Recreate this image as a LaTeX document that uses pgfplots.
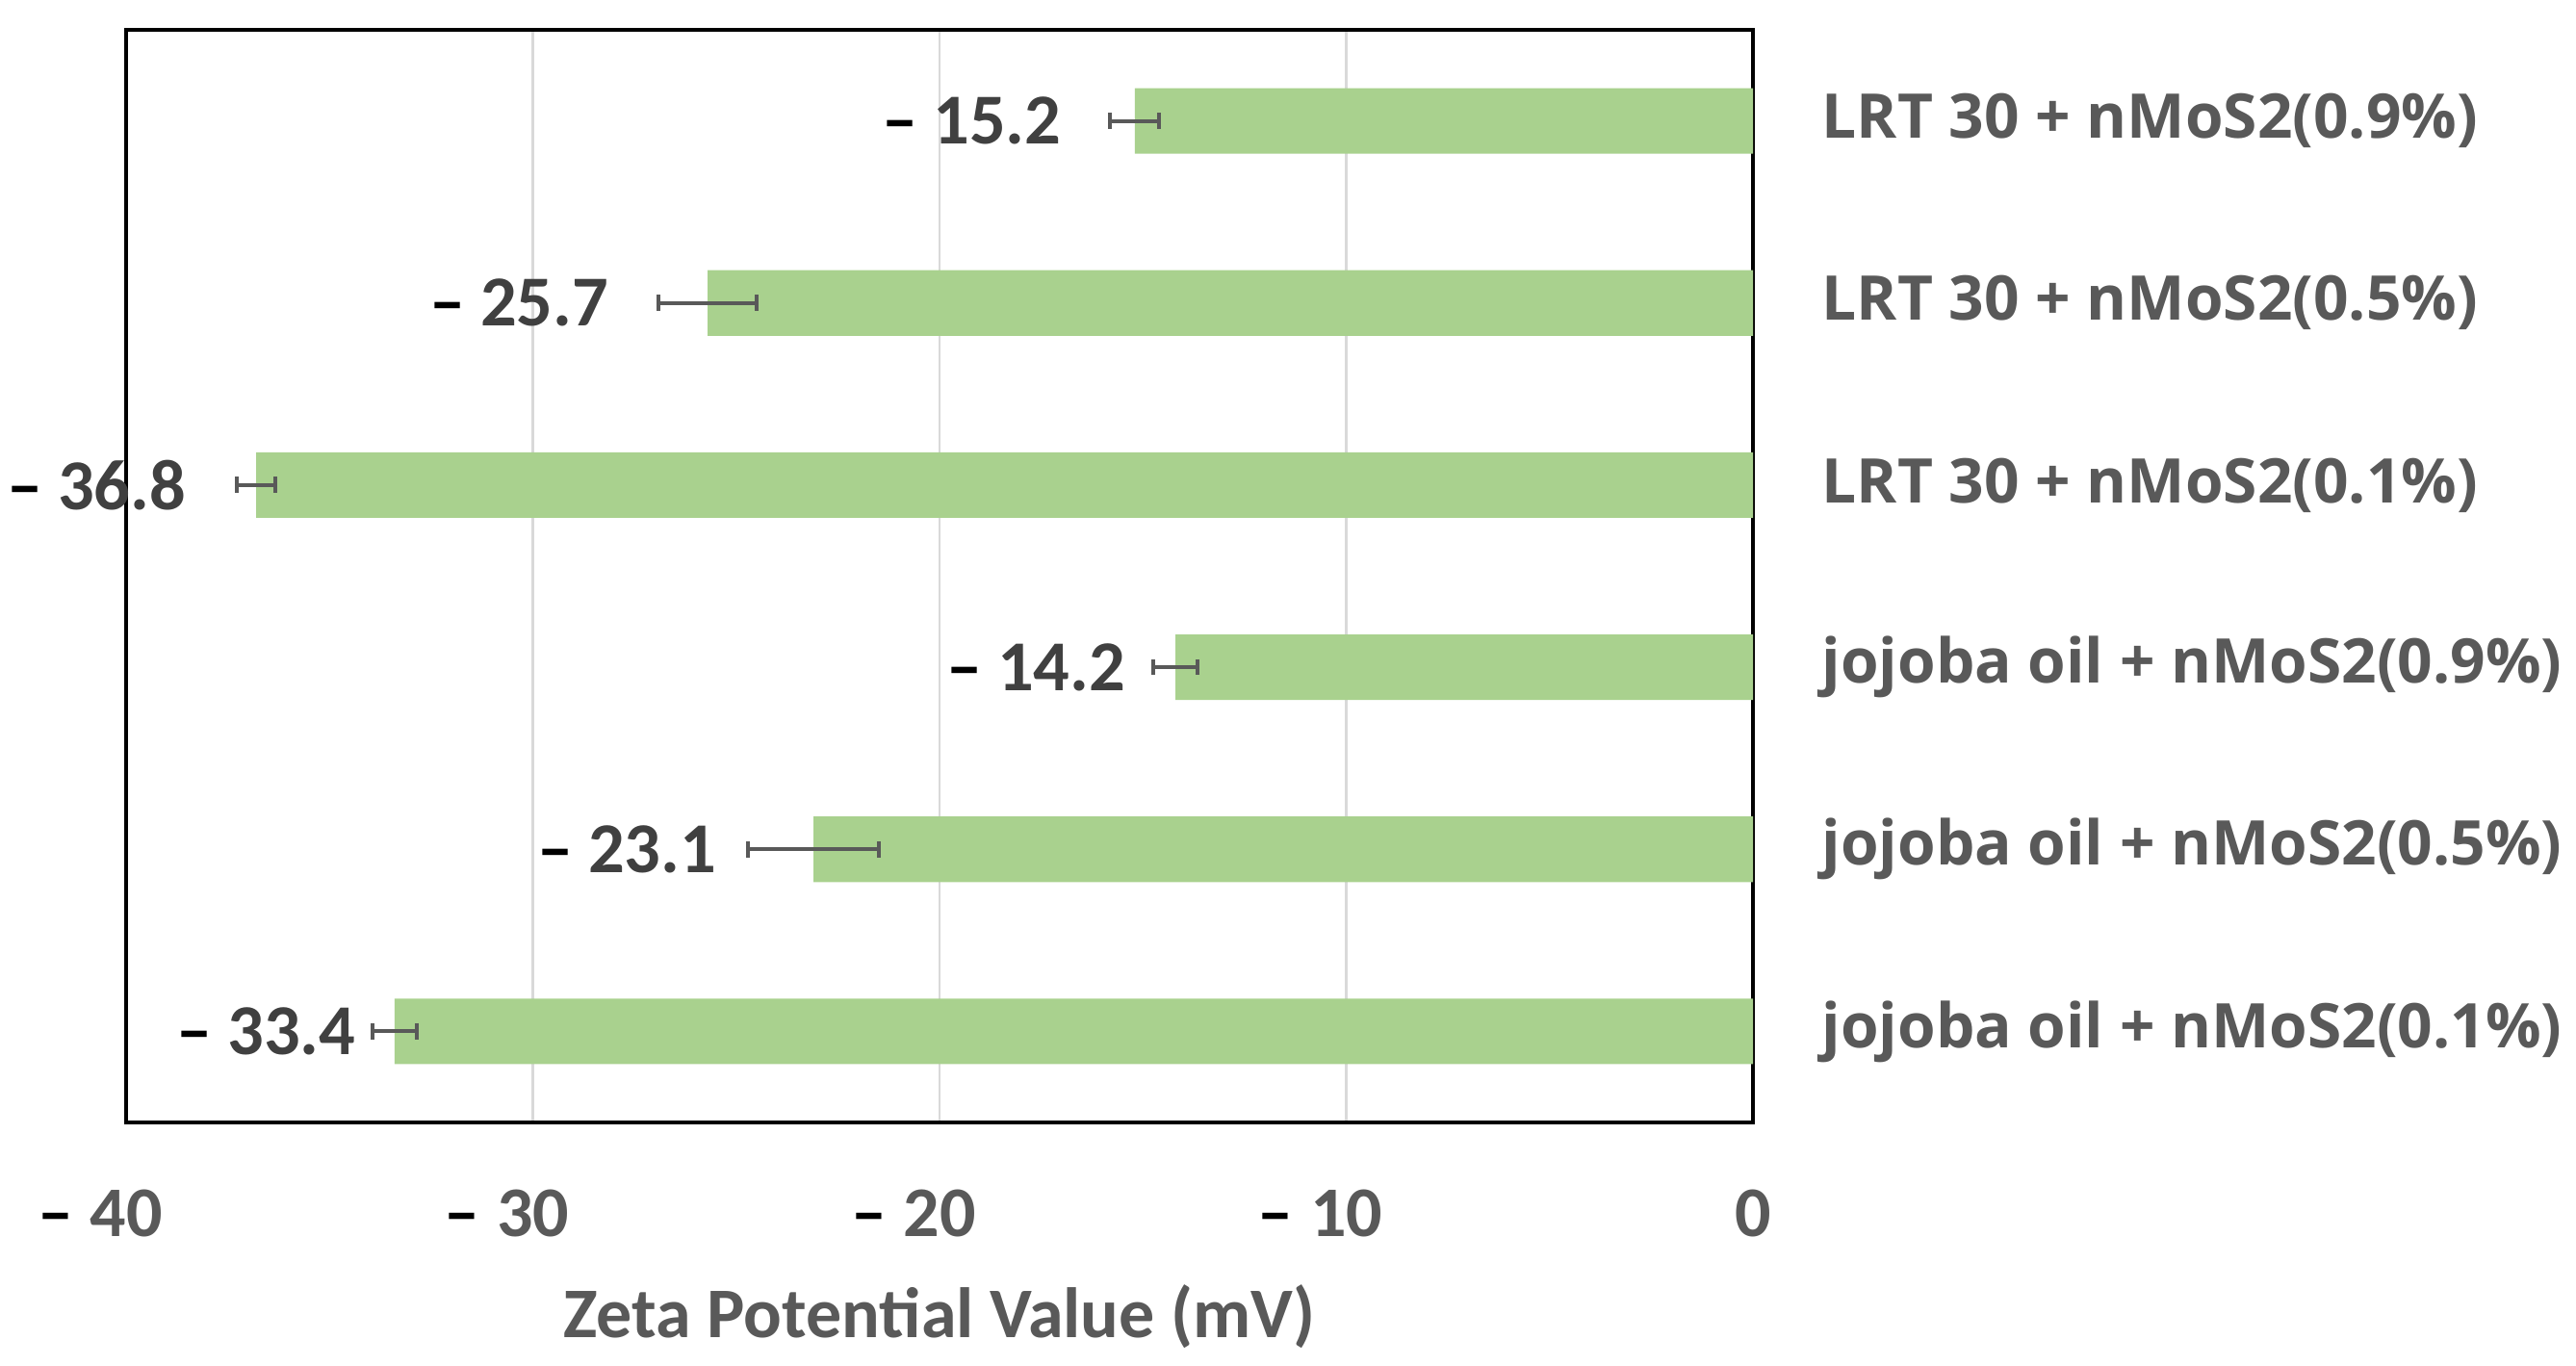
\documentclass[border=0pt]{standalone}
\usepackage{fontspec}
\setmainfont{Carlito}
\newfontfamily\catfont{Open Sans}
\usepackage{pgfplots}
\pgfplotsset{compat=1.18}

\definecolor{barc}{HTML}{A9D18E}
\definecolor{errc}{HTML}{595959}
\definecolor{gridc}{HTML}{D9D9D9}
\definecolor{labc}{HTML}{404040}
\definecolor{tickc}{HTML}{595959}

% Excel-style tick label: black dash, grey digits, trailing blank room
\newcommand{\negtick}[1]{{\color{black}–}\hspace{4.5pt}#1\makebox[13.5pt]{}}

\begin{document}
\begin{tikzpicture}
\path[use as bounding box] (-32.75pt,-63.25pt) rectangle (636.25pt,291.5pt);
\begin{axis}[
   scale only axis,
   width=422.5pt, height=283.75pt,
   xmin=-40, xmax=0,
   ymin=-0.5, ymax=5.5,
   clip=false,
   axis line style={black, line width=1pt},
   xmajorgrids,
   grid style={draw=gridc, line width=0.6pt},
   major tick length=0pt,
   xtick={-40,-30,-20,-10,0},
   xticklabels={\negtick{40},\negtick{30},\negtick{20},\negtick{10},0},
   xticklabel style={font=\fontsize{18.5}{20}\selectfont\bfseries, text=tickc,
       anchor=center, yshift=-23.75pt},
   ytick={0,1,2,3,4,5},
   yticklabels={jojoba oil + nMoS2(0.1\%), jojoba oil + nMoS2(0.5\%),
       jojoba oil + nMoS2(0.9\%), LRT 30 + nMoS2(0.1\%),
       LRT 30 + nMoS2(0.5\%), LRT 30 + nMoS2(0.9\%)},
   yticklabel pos=right,
   yticklabel style={font=\catfont\fontsize{16}{18}\selectfont\bfseries, text=tickc,
       anchor=west, inner sep=0pt, xshift=17.75pt},
   xlabel={Zeta Potential Value (mV)},
   xlabel style={font=\fontsize{18.5}{20}\selectfont\bfseries, text=tickc,
       at={(axis description cs:0.5,0)}, anchor=center, yshift=-50.5pt},
]
\addplot[xbar, fill=barc, draw=none, bar width=0.36,
   error bars/.cd, x dir=both, x explicit, error mark=|,
   error bar style={color=errc, line width=1pt},
   error mark options={color=errc, line width=1pt, mark size=2.1pt}]
coordinates {
(-33.4,0) +- (0.55,0)
(-23.1,1) +- (1.6,0)
(-14.2,2) +- (0.55,0)
(-36.8,3) +- (0.47,0)
(-25.7,4) +- (1.2,0)
(-15.2,5) +- (0.6,0)
};
\addplot[draw=none, mark=none, point meta=explicit symbolic,
   nodes near coords={{\color{black}–}\hspace{4pt}\pgfplotspointmeta},
   nodes near coords style={anchor=east, inner sep=0pt, text=labc,
       font=\fontsize{18.6}{20}\selectfont\bfseries}]
coordinates {
(-34.34,0) [33.4]
(-25.47,1) [23.1]
(-15.41,2) [14.2]
(-38.51,3) [36.8]
(-28.12,4) [25.7]
(-16.99,5) [15.2]
};
\end{axis}
\end{tikzpicture}
\end{document}
